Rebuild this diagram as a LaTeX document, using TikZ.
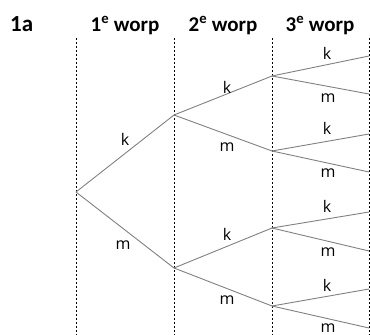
\documentclass[tikz,border=0pt]{standalone}
\usepackage{fontspec}
\setmainfont{Open Sans}
\newfontfamily\headfont{Carlito}
\begin{document}
\begin{tikzpicture}[x=1pt,y=-1pt,
  branch/.style={draw=black!50, line width=0.9pt},
  guide/.style={draw=black, line width=0.6pt, dash pattern=on 2pt off 2pt},
  lab/.style={font=\fontsize{16}{18}\selectfont, inner sep=0pt},
  head/.style={font=\headfont\bfseries\fontsize{21}{24}\selectfont, inner sep=0pt},
  pt/.style={inner sep=0pt, minimum size=0pt}]
\useasboundingbox (0,0) rectangle (370,335);
% headers
\node[head, anchor=base west, font=\headfont\bfseries\fontsize{23}{26}\selectfont] (h0) at (10,31.5) {1a};
\node[head, anchor=base] (h1) at (125,31.5) {1\textsuperscript{e} worp};
\node[head, anchor=base] (h2) at (223,31.5) {2\textsuperscript{e} worp};
\node[head, anchor=base] (h3) at (320,31.5) {3\textsuperscript{e} worp};
% guides
\coordinate (g0t) at (76,38); \coordinate (g0b) at (76,335);
\coordinate (g1t) at (174,38); \coordinate (g1b) at (174,335);
\coordinate (g2t) at (272,38); \coordinate (g2b) at (272,335);
\coordinate (g3t) at (369,38); \coordinate (g3b) at (369,335);
\draw[guide] (g0t) -- (g0b);
\draw[guide] (g1t) -- (g1b);
\draw[guide] (g2t) -- (g2b);
\draw[guide] (g3t) -- (g3b);
% tree nodes
\coordinate (r) at (76,192);
\coordinate (a) at (174,115);
\coordinate (b) at (174,268);
\coordinate (aa) at (272,76);
\coordinate (ab) at (272,151);
\coordinate (ba) at (272,228);
\coordinate (bb) at (272,306);
\coordinate (aaa) at (369,56);
\coordinate (aab) at (369,94);
\coordinate (aba) at (369,134);
\coordinate (abb) at (369,172);
\coordinate (baa) at (369,212);
\coordinate (bab) at (369,251);
\coordinate (bba) at (369,289);
\coordinate (bbb) at (369,328);
\draw[branch] (r) -- (a);
\draw[branch] (r) -- (b);
\draw[branch] (a) -- (aa);
\draw[branch] (a) -- (ab);
\draw[branch] (b) -- (ba);
\draw[branch] (b) -- (bb);
\draw[branch] (aa) -- (aaa);
\draw[branch] (aa) -- (aab);
\draw[branch] (ab) -- (aba);
\draw[branch] (ab) -- (abb);
\draw[branch] (ba) -- (baa);
\draw[branch] (ba) -- (bab);
\draw[branch] (bb) -- (bba);
\draw[branch] (bb) -- (bbb);
% labels
\node[lab] (l1) at (125,139) {k};
\node[lab] (l2) at (123,245) {m};
\node[lab] (l3) at (227,87) {k};
\node[lab] (l4) at (227,147) {m};
\node[lab] (l5) at (227,234) {k};
\node[lab] (l6) at (227,300) {m};
\node[lab] (l7) at (327,53) {k};
\node[lab] (l8) at (328,98) {m};
\node[lab] (l9) at (327,128) {k};
\node[lab] (l10) at (328,173) {m};
\node[lab] (l11) at (327,206) {k};
\node[lab] (l12) at (328,252) {m};
\node[lab] (l13) at (327,285) {k};
\node[lab] (l14) at (328,328) {m};
\end{tikzpicture}
\end{document}
